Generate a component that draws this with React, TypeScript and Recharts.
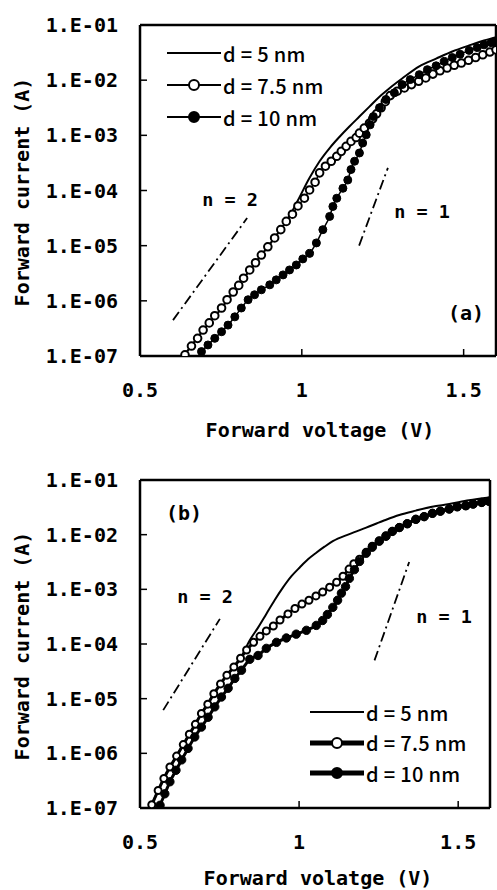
import React from 'react';
import { LineChart, Line, XAxis, YAxis, ReferenceLine } from 'recharts';

const FONT = '"Noto Sans CJK JP", "Noto Sans", sans-serif';
const MONO = '"DejaVu Sans Mono", "Liberation Mono", monospace';

// forward voltage (V) and log10 of forward current (A)
const a5V = [0.635, 0.70, 0.75, 0.80, 0.85, 0.90, 0.95, 0.97, 0.993, 1.024, 1.055, 1.086, 1.116, 1.147, 1.178, 1.209, 1.240, 1.270, 1.310, 1.363, 1.415, 1.465, 1.517, 1.563, 1.60];
const a5I = [-7.0, -6.50, -6.15, -5.75, -5.36, -4.98, -4.57, -4.38, -4.12, -3.77, -3.47, -3.23, -3.03, -2.84, -2.66, -2.48, -2.30, -2.15, -1.97, -1.75, -1.61, -1.48, -1.37, -1.28, -1.22];

const a75V = [0.639, 0.659, 0.678, 0.695, 0.714, 0.731, 0.752, 0.769, 0.788, 0.805, 0.820, 0.839, 0.857, 0.875, 0.895, 0.916, 0.935, 0.952, 0.971, 0.988, 1.008, 1.024, 1.041, 1.055, 1.073, 1.091, 1.108, 1.122, 1.137, 1.152, 1.168, 1.178, 1.193, 1.209, 1.219, 1.231, 1.245, 1.258, 1.273, 1.295, 1.317, 1.339, 1.361, 1.383, 1.405, 1.427, 1.449, 1.471, 1.493, 1.515, 1.537, 1.559, 1.581, 1.600];
const a75I = [-6.98, -6.82, -6.68, -6.53, -6.40, -6.27, -6.13, -5.98, -5.84, -5.72, -5.59, -5.44, -5.31, -5.17, -5.02, -4.86, -4.71, -4.56, -4.43, -4.28, -4.14, -3.99, -3.85, -3.68, -3.56, -3.47, -3.38, -3.29, -3.20, -3.11, -3.04, -2.96, -2.87, -2.78, -2.70, -2.61, -2.50, -2.39, -2.28, -2.20, -2.14, -2.08, -2.02, -1.96, -1.89, -1.83, -1.78, -1.73, -1.69, -1.64, -1.59, -1.54, -1.49, -1.45];

const a10V = [0.690, 0.710, 0.731, 0.752, 0.772, 0.793, 0.813, 0.834, 0.854, 0.875, 0.901, 0.921, 0.942, 0.962, 0.983, 1.003, 1.024, 1.045, 1.065, 1.086, 1.096, 1.108, 1.127, 1.142, 1.152, 1.163, 1.178, 1.188, 1.199, 1.211, 1.221, 1.240, 1.260, 1.286, 1.310, 1.335, 1.363, 1.388, 1.415, 1.440, 1.465, 1.489, 1.517, 1.542, 1.563, 1.585, 1.597];
const a10I = [-6.92, -6.80, -6.68, -6.56, -6.44, -6.29, -6.13, -5.98, -5.89, -5.80, -5.71, -5.62, -5.53, -5.44, -5.35, -5.24, -5.14, -4.95, -4.71, -4.47, -4.29, -4.14, -3.96, -3.81, -3.62, -3.47, -3.32, -3.14, -2.99, -2.81, -2.66, -2.50, -2.35, -2.23, -2.08, -1.99, -1.90, -1.81, -1.74, -1.66, -1.59, -1.53, -1.46, -1.41, -1.36, -1.32, -1.30];

const b5V = [0.537, 0.575, 0.615, 0.655, 0.693, 0.732, 0.773, 0.816, 0.845, 0.871, 0.897, 0.923, 0.949, 0.976, 1.002, 1.028, 1.054, 1.080, 1.106, 1.158, 1.211, 1.263, 1.315, 1.367, 1.418, 1.472, 1.534, 1.597];
const b5I = [-6.94, -6.46, -6.05, -5.65, -5.27, -4.91, -4.57, -4.26, -3.93, -3.70, -3.45, -3.20, -2.97, -2.76, -2.60, -2.45, -2.33, -2.22, -2.12, -1.99, -1.87, -1.75, -1.64, -1.56, -1.49, -1.44, -1.37, -1.32];

const b75V = [0.537, 0.557, 0.575, 0.594, 0.615, 0.636, 0.655, 0.674, 0.693, 0.713, 0.732, 0.753, 0.773, 0.795, 0.816, 0.835, 0.857, 0.877, 0.897, 0.919, 0.940, 0.965, 0.987, 1.009, 1.031, 1.053, 1.074, 1.096, 1.118, 1.138, 1.157, 1.172, 1.190, 1.211, 1.230, 1.252, 1.273, 1.293, 1.315, 1.340, 1.367, 1.393, 1.419, 1.444, 1.472, 1.497, 1.524, 1.547, 1.574, 1.597];
const b75I = [-6.94, -6.68, -6.46, -6.25, -6.05, -5.84, -5.65, -5.47, -5.27, -5.10, -4.91, -4.73, -4.57, -4.42, -4.26, -4.11, -3.97, -3.86, -3.76, -3.67, -3.56, -3.45, -3.35, -3.27, -3.20, -3.12, -3.05, -2.96, -2.87, -2.76, -2.63, -2.53, -2.45, -2.32, -2.21, -2.11, -2.02, -1.94, -1.87, -1.80, -1.72, -1.67, -1.61, -1.57, -1.53, -1.49, -1.47, -1.44, -1.41, -1.39];

const b10V = [0.563, 0.578, 0.594, 0.613, 0.631, 0.651, 0.672, 0.693, 0.714, 0.735, 0.756, 0.777, 0.798, 0.819, 0.845, 0.871, 0.897, 0.929, 0.960, 0.991, 1.023, 1.054, 1.074, 1.089, 1.106, 1.121, 1.133, 1.146, 1.158, 1.174, 1.190, 1.211, 1.230, 1.252, 1.273, 1.293, 1.315, 1.340, 1.367, 1.393, 1.419, 1.444, 1.472, 1.497, 1.524, 1.547, 1.574, 1.597];
const b10I = [-6.95, -6.74, -6.52, -6.31, -6.12, -5.91, -5.70, -5.52, -5.34, -5.15, -4.97, -4.81, -4.63, -4.48, -4.28, -4.21, -4.08, -3.97, -3.89, -3.82, -3.75, -3.66, -3.57, -3.46, -3.33, -3.20, -3.07, -2.95, -2.80, -2.64, -2.49, -2.34, -2.23, -2.12, -2.03, -1.94, -1.87, -1.80, -1.72, -1.67, -1.61, -1.57, -1.53, -1.49, -1.47, -1.44, -1.41, -1.39];

// ideality slope guides: [V, log10 I] end points
const aN2 = [[0.602, -6.35], [0.831, -4.50]];
const aN1 = [[1.177, -5.00], [1.266, -3.59]];
const bN2 = [[0.573, -5.21], [0.751, -3.54]];
const bN1 = [[1.237, -4.30], [1.346, -2.50]];

const xTicks = [0.5, 1, 1.5];
const yTicks = [1e-7, 1e-6, 1e-5, 1e-4, 1e-3, 1e-2, 1e-1];
const yTickLabels = ['1.E-07', '1.E-06', '1.E-05', '1.E-04', '1.E-03', '1.E-02', '1.E-01'];
const names = ['d = 5 nm', 'd = 7.5 nm', 'd = 10 nm'];

const pts = (v: number[], l: number[]) => v.map((x, k) => ({ v: x, i: Math.pow(10, l[k]) }));
const seg = (s: number[][]) => s.map(([x, l]) => ({ x, y: Math.pow(10, l) }));

type Series = { name: string; data: { v: number; i: number }[]; width: number; dot: any; legendWidth: number; legendDot: string | null };

const panelA: Series[] = [
  { name: names[0], data: pts(a5V, a5I), width: 2, dot: false, legendWidth: 2, legendDot: null },
  { name: names[1], data: pts(a75V, a75I), width: 1.5, dot: { r: 3.8, fill: '#fff', stroke: '#000', strokeWidth: 2 }, legendWidth: 2, legendDot: '#fff' },
  { name: names[2], data: pts(a10V, a10I), width: 1.5, dot: { r: 4, fill: '#000', stroke: '#000', strokeWidth: 1 }, legendWidth: 2, legendDot: '#000' },
];

const panelB: Series[] = [
  { name: names[0], data: pts(b5V, b5I), width: 2, dot: false, legendWidth: 2, legendDot: null },
  { name: names[1], data: pts(b75V, b75I), width: 3, dot: { r: 3.5, fill: '#fff', stroke: '#000', strokeWidth: 2 }, legendWidth: 5, legendDot: '#fff' },
  { name: names[2], data: pts(b10V, b10I), width: 3, dot: { r: 4.2, fill: '#000', stroke: '#000', strokeWidth: 1 }, legendWidth: 5, legendDot: '#000' },
];

const txt = (x: number, y: number, s: string, size = 18.5) => (
  <div style={{ position: 'absolute', left: x, top: y, transform: 'translate(-50%, -50%)', fontSize: size, fontFamily: MONO, fontWeight: 'bold', whiteSpace: 'nowrap', lineHeight: 1 }}>{s}</div>
);

function LegendBox({ items, left, top, gap }: { items: Series[]; left: number; top: number; gap: number }) {
  return (
    <div style={{ position: 'absolute', left, top }}>
      {items.map((s, k) => (
        <div key={s.name} style={{ position: 'absolute', left: 0, top: k * gap - 10, height: 20, display: 'flex', alignItems: 'center', whiteSpace: 'nowrap' }}>
          <svg width={54} height={14} style={{ marginRight: 2 }}>
            <line x1={0} x2={54} y1={7} y2={7} stroke="#000" strokeWidth={s.legendWidth} />
            {s.legendDot && <circle cx={27} cy={7} r={5} fill={s.legendDot} stroke="#000" strokeWidth={2} />}
          </svg>
          <span style={{ fontSize: 20, fontFamily: FONT, fontWeight: 500, letterSpacing: 0.3 }}>{s.name}</span>
        </div>
      ))}
    </div>
  );
}

function Panel({ series, slopes, top, marginTop, marginRight, xHeight }: { series: Series[]; slopes: number[][][]; top: number; marginTop: number; marginRight: number; xHeight: number }) {
  const tick = { fontSize: 20, fill: '#000', fontFamily: MONO, fontWeight: 'bold' };
  return (
    <div style={{ position: 'absolute', left: 0, top }}>
      <LineChart width={497} height={445} margin={{ top: marginTop, right: marginRight, bottom: 0, left: 0 }}>
        <XAxis type="number" dataKey="v" domain={[0.5, 1.6]} ticks={xTicks} allowDataOverflow height={xHeight}
          tick={tick} tickSize={-7} tickMargin={34} tickLine={{ stroke: '#000', strokeWidth: 1.5 }} axisLine={{ stroke: '#000', strokeWidth: 2.5 }} />
        <YAxis type="number" dataKey="i" scale="log" domain={[1e-7, 1e-1]} ticks={yTicks} allowDataOverflow width={140}
          tickFormatter={(val: number) => yTickLabels[yTicks.findIndex((t) => Math.abs(Math.log10(t) - Math.log10(val)) < 0.01)]}
          tick={tick} tickSize={-7} tickMargin={29} tickLine={{ stroke: '#000', strokeWidth: 1.5 }} axisLine={{ stroke: '#000', strokeWidth: 2.5 }} />
        <ReferenceLine y={1e-1} stroke="#000" strokeWidth={2.5} />
        <ReferenceLine x={1.6} stroke="#000" strokeWidth={2.5} />
        {slopes.map((s, k) => (
          <ReferenceLine key={k} segment={seg(s)} stroke="#000" strokeWidth={1.8} strokeDasharray="10 4 2 4" />
        ))}
        {series.map((s) => (
          <Line key={s.name} name={s.name} data={s.data} dataKey="i" type="monotone" stroke="#000" strokeWidth={s.width}
            dot={s.dot} activeDot={false} isAnimationActive={false} />
        ))}
      </LineChart>
    </div>
  );
}

export default function App() {
  const ytitle = { position: 'absolute' as const, left: 22, transform: 'translate(-50%, -50%) rotate(-90deg)', fontSize: 20, fontFamily: MONO, fontWeight: 'bold' as const, whiteSpace: 'nowrap' as const, lineHeight: 1 };
  return (
    <div style={{ position: 'absolute', left: 0, top: 0, width: 497, height: 890, background: '#fff', overflow: 'hidden' }}>
      <Panel series={panelA} slopes={[aN2, aN1]} top={0} marginTop={25} marginRight={1} xHeight={89} />
      <Panel series={panelB} slopes={[bN2, bN1]} top={445} marginTop={35} marginRight={7} xHeight={82} />
      <LegendBox items={panelA} left={167} top={53} gap={32} />
      <LegendBox items={panelB} left={310} top={712} gap={30.5} />
      {txt(230, 200, 'n = 2')}
      {txt(422, 212, 'n = 1')}
      {txt(466, 313, '(a)', 20)}
      {txt(184, 513, '(b)', 20)}
      {txt(205, 597, 'n = 2')}
      {txt(444, 617, 'n = 1')}
      {txt(320, 430, 'Forward voltage (V)', 20)}
      {txt(318, 878, 'Forward volatge (V)', 20)}
      <div style={{ ...ytitle, top: 192 }}>Forward current (A)</div>
      <div style={{ ...ytitle, top: 646 }}>Forward current (A)</div>
    </div>
  );
}
